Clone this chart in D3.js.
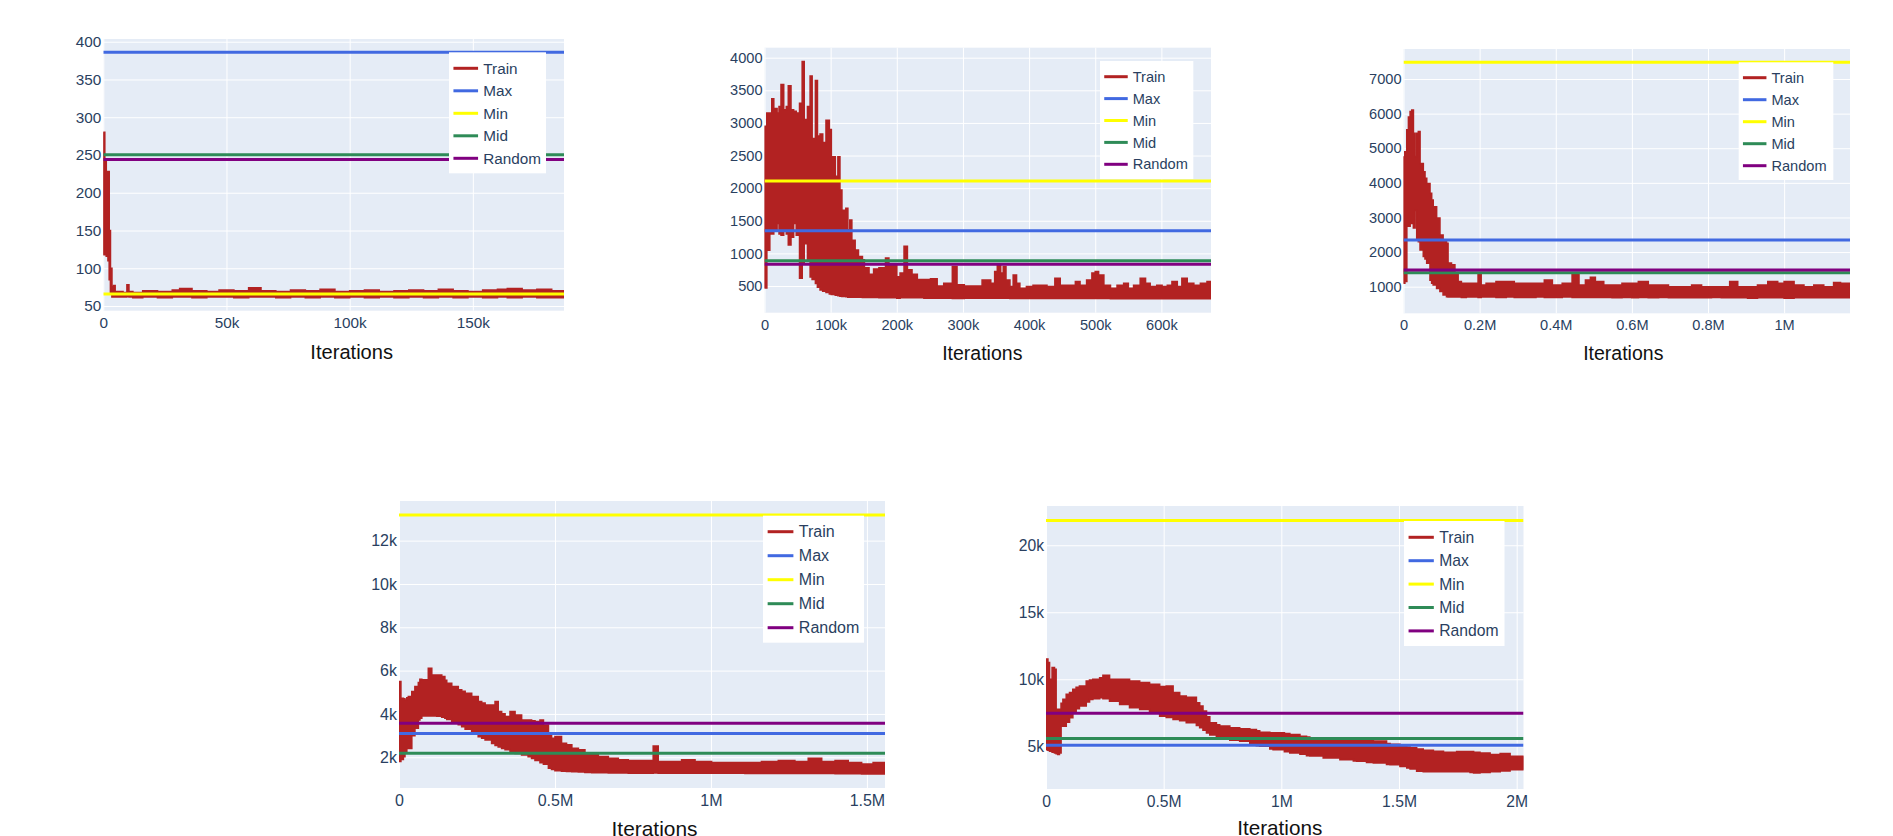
<!DOCTYPE html>
<html>
<head>
<meta charset="utf-8">
<script src="https://cdn.jsdelivr.net/npm/d3@7"></script>
<style>
    body { margin: 0; background: #fff; overflow: hidden; }
    svg { display: block; font-family: "Liberation Sans", Arial, sans-serif; }
</style>
</head>
<body>
<svg id="chart" width="1893" height="836"></svg>
<script>
// legend entries, same for every panel
const seriesNames = ['Train', 'Max', 'Min', 'Mid', 'Random'];
const seriesColors = ['#b22222', '#4169e1', '#ffff00', '#2e8b57', '#800080'];

// flat reference lines, one value per panel (panel 1..5)
const maxValues = [386, 1348, 2349, 3098, 5074];
const minValues = [65.8, 2110, 7482, 13180, 21840];
const midValues = [250.3, 888, 1405, 2180, 5570];
const randomValues = [244, 833, 1482, 3570, 7460];

// x axis end (iterations, thousands)
const xMaxValues = [187, 675, 1173, 1558, 2029];

// Train curves: [iteration (k), lower edge, upper edge]
const p1Train = [
    [0, 118, 280], [0.6, 118, 245], [1.2, 116, 228], [1.9, 110, 228], [2.4, 85, 150],
    [2.9, 66, 100], [3.5, 62, 75], [4.2, 63, 77], [4.8, 62, 69], [6, 62, 69],
    [8, 62, 68], [9.6, 63, 78], [10.4, 62, 69], [12, 61, 68], [16, 62, 70],
    [22, 61, 69], [28, 62, 71], [31, 62, 73], [36, 61, 70], [42, 62, 69],
    [47, 62, 71], [53, 61, 70], [59, 62, 74], [64, 62, 70], [70, 61, 69],
    [76, 62, 71], [82, 61, 70], [88, 62, 72], [94, 61, 69], [100, 62, 70],
    [106, 61, 71], [112, 62, 69], [118, 61, 70], [124, 62, 71], [130, 61, 70],
    [136, 62, 72], [142, 61, 70], [148, 62, 69], [154, 61, 71], [160, 62, 72],
    [164, 61, 73], [170, 62, 71], [176, 61, 72], [182, 61, 70], [187, 60, 71]
];

const p2Train = [
    [0, 470, 2950], [3.5, 1050, 3150], [8, 1300, 3150], [11, 1300, 3370], [14, 1350, 3220],
    [19, 1460, 3150], [22, 1300, 3250], [25, 1280, 3590], [29, 1350, 3200], [33, 1300, 3250],
    [36, 1130, 3570], [40, 1250, 3200], [44, 1460, 3180], [48, 1280, 3150], [53, 620, 3300],
    [57, 850, 3940], [60, 1150, 3050], [65, 900, 3250], [69, 640, 3720], [72, 600, 2760],
    [77, 540, 3650], [80, 480, 2800], [84, 440, 2830], [88, 420, 2700], [93, 400, 3040],
    [98, 380, 2900], [101, 370, 2480], [107, 360, 2180], [111, 350, 2480], [114, 345, 1970],
    [117, 340, 1660], [123, 335, 1690], [126, 330, 1360], [129, 330, 1510], [132, 330, 1200],
    [137, 330, 1050], [142, 330, 950], [148, 325, 900], [151, 325, 780], [158, 325, 680],
    [165, 325, 760], [173, 320, 780], [183, 320, 930], [188, 320, 840], [193, 320, 840],
    [200, 315, 640], [205, 320, 700], [211, 320, 1110], [216, 320, 750], [223, 320, 680],
    [231, 320, 600], [241, 315, 600], [251, 315, 610], [261, 315, 500], [271, 315, 540],
    [284, 310, 800], [291, 310, 520], [302, 315, 500], [317, 315, 500], [329, 315, 590],
    [342, 315, 540], [348, 315, 720], [352, 315, 810], [357, 315, 700], [361, 315, 800],
    [365, 315, 590], [371, 310, 490], [376, 310, 670], [381, 310, 540], [386, 310, 465],
    [396, 310, 490], [406, 310, 510], [417, 310, 510], [427, 310, 490], [439, 310, 620],
    [447, 310, 510], [457, 310, 510], [470, 310, 570], [477, 310, 510], [487, 310, 590],
    [495, 310, 700], [500, 310, 720], [505, 310, 670], [513, 310, 510], [523, 305, 465],
    [533, 305, 510], [543, 305, 540], [550, 305, 465], [558, 305, 510], [568, 305, 620],
    [576, 305, 540], [583, 305, 490], [593, 305, 510], [601, 305, 490], [609, 305, 510],
    [616, 305, 570], [624, 305, 490], [631, 305, 620], [639, 305, 540], [649, 305, 510],
    [659, 305, 540], [669, 305, 570], [675, 320, 490]
];

const p3Train = [
    [0, 1100, 4750], [3.5, 1150, 4900], [8.7, 2750, 5530], [13, 2750, 5900], [17.4, 2830, 6060],
    [21.7, 2830, 6100], [26, 2700, 5430], [30.4, 3200, 4760], [34.8, 2350, 5430], [39, 2300, 5480],
    [43.5, 2060, 4560], [52, 1870, 4320], [56.5, 1800, 4130], [61, 1680, 3980], [69.6, 1190, 3700],
    [74, 1100, 3500], [78, 1050, 3310], [87, 950, 2980], [95.7, 860, 2490], [104, 760, 2350],
    [113, 710, 2250], [117, 700, 1680], [126, 700, 1630], [135, 700, 1390], [143.5, 700, 1150],
    [152, 690, 1100], [165, 700, 1100], [178, 700, 1100], [196, 690, 1340], [204, 700, 1050],
    [217, 700, 1100], [243, 690, 1150], [270, 700, 1150], [291, 690, 1100], [322, 690, 1100],
    [348, 700, 1100], [370, 690, 1190], [391, 690, 1050], [417, 700, 1100], [443, 690, 1370],
    [461, 690, 1050], [478, 690, 1190], [491, 690, 1270], [504, 690, 1150], [526, 690, 1050],
    [548, 680, 1050], [574, 690, 1100], [600, 680, 1100], [617, 690, 1150], [643, 680, 1050],
    [670, 690, 1050], [696, 680, 1000], [730, 680, 1000], [757, 680, 1050], [783, 680, 1000],
    [809, 690, 1000], [835, 680, 1000], [857, 680, 1150], [878, 680, 1000], [904, 670, 1000],
    [930, 680, 1050], [957, 680, 1150], [983, 680, 1100], [1000, 670, 1150], [1026, 680, 1050],
    [1052, 680, 1000], [1078, 680, 1050], [1104, 680, 1000], [1130, 680, 1120], [1148, 680, 1100],
    [1173, 700, 900]
];

const p4Train = [
    [0, 1800, 5490], [6, 1900, 4720], [14, 2030, 4700], [19, 2200, 4640], [25, 2410, 4750],
    [30, 2410, 4800], [41, 3000, 5030], [51, 3340, 5260], [62, 3720, 5450], [67, 3800, 5600],
    [73, 3910, 5570], [83, 3910, 5570], [94, 3910, 6110], [105, 3910, 5800], [121, 3900, 5800],
    [137, 3850, 5720], [147, 3800, 5550], [153, 3750, 5410], [169, 3650, 5260], [190, 3500, 5110],
    [201, 3410, 5050], [212, 3300, 4950], [233, 3110, 4800], [254, 2950, 4570], [265, 2880, 4500],
    [276, 2800, 4410], [297, 2640, 4410], [308, 2550, 4570], [318, 2480, 4110], [329, 2410, 4000],
    [340, 2350, 3880], [356, 2260, 4110], [372, 2180, 3950], [393, 2110, 3720], [414, 2030, 3720],
    [425, 1950, 3680], [436, 1850, 3650], [452, 1750, 3720], [463, 1680, 3490], [479, 1490, 3110],
    [489, 1440, 2880], [500, 1380, 2950], [521, 1350, 2640], [537, 1340, 2570], [554, 1330, 2410],
    [575, 1320, 2340], [596, 1300, 2180], [618, 1290, 2110], [639, 1290, 2030], [671, 1280, 1950],
    [703, 1270, 1880], [735, 1260, 1850], [778, 1260, 1850], [815, 1270, 2520], [831, 1260, 1800],
    [874, 1260, 1800], [906, 1260, 1880], [949, 1260, 1800], [1002, 1260, 1750], [1056, 1260, 1750],
    [1109, 1250, 1750], [1162, 1250, 1800], [1216, 1250, 1850], [1269, 1250, 1800], [1312, 1250, 1950],
    [1355, 1250, 1800], [1398, 1240, 1850], [1440, 1240, 1750], [1483, 1230, 1690], [1520, 1230, 1750],
    [1558, 1300, 1650]
];

const p5Train = [
    [0, 4750, 11500], [8, 4700, 11250], [15, 4630, 10000], [26, 4550, 10870], [36, 4500, 10750],
    [43, 4450, 7750], [50, 4380, 7750], [57, 4500, 7750], [64, 6500, 8200], [72, 6500, 8500],
    [86, 6800, 8870], [100, 7130, 9000], [114, 7500, 9250], [128, 7800, 9400], [142, 8000, 9500],
    [171, 8300, 9870], [185, 8500, 9950], [199, 8550, 10000], [228, 8620, 10100], [242, 8550, 10300],
    [270, 8370, 10000], [313, 8120, 10000], [355, 7870, 9870], [398, 7750, 9750], [440, 7500, 9620],
    [483, 7250, 9450], [511, 7150, 9500], [540, 7000, 9000], [568, 6900, 8750], [596, 6750, 8650],
    [639, 6550, 8250], [653, 6380, 8000], [667, 6200, 7620], [682, 6000, 7200], [696, 5850, 6750],
    [724, 5700, 6600], [738, 5620, 6500], [781, 5450, 6380], [823, 5380, 6300], [866, 5200, 6250],
    [894, 5050, 6150], [908, 5000, 6050], [951, 4800, 6000], [965, 4750, 6000], [1013, 4600, 5950],
    [1036, 4500, 5880], [1079, 4400, 5750], [1107, 4300, 5680], [1121, 4280, 5630], [1178, 4130, 5500],
    [1249, 4000, 5500], [1306, 3900, 5520], [1320, 3880, 5500], [1362, 3800, 5500], [1391, 3750, 5380],
    [1447, 3650, 5200], [1462, 3630, 5150], [1504, 3500, 5000], [1533, 3380, 4950], [1547, 3300, 4880],
    [1575, 3130, 4800], [1603, 3100, 4700], [1646, 3100, 4630], [1689, 3100, 4550], [1745, 3100, 4600],
    [1802, 3050, 4600], [1817, 3000, 4550], [1844, 3050, 4500], [1887, 3100, 4380], [1930, 3150, 4450],
    [1972, 3250, 4250], [2029, 3200, 4100]
];

// tick values and labels
const p1XTicks = [0, 50, 100, 150];
const p1XLabels = ['0', '50k', '100k', '150k'];
const p1YTicks = [50, 100, 150, 200, 250, 300, 350, 400];
const p1YLabels = ['50', '100', '150', '200', '250', '300', '350', '400'];

const p2XTicks = [0, 100, 200, 300, 400, 500, 600];
const p2XLabels = ['0', '100k', '200k', '300k', '400k', '500k', '600k'];
const p2YTicks = [500, 1000, 1500, 2000, 2500, 3000, 3500, 4000];
const p2YLabels = ['500', '1000', '1500', '2000', '2500', '3000', '3500', '4000'];

const p3XTicks = [0, 200, 400, 600, 800, 1000];
const p3XLabels = ['0', '0.2M', '0.4M', '0.6M', '0.8M', '1M'];
const p3YTicks = [1000, 2000, 3000, 4000, 5000, 6000, 7000];
const p3YLabels = ['1000', '2000', '3000', '4000', '5000', '6000', '7000'];

const p4XTicks = [0, 500, 1000, 1500];
const p4XLabels = ['0', '0.5M', '1M', '1.5M'];
const p4YTicks = [2000, 4000, 6000, 8000, 10000, 12000];
const p4YLabels = ['2k', '4k', '6k', '8k', '10k', '12k'];

const p5XTicks = [0, 500, 1000, 1500, 2000];
const p5XLabels = ['0', '0.5M', '1M', '1.5M', '2M'];
const p5YTicks = [5000, 10000, 15000, 20000];
const p5YLabels = ['5k', '10k', '15k', '20k'];

const xTitle = 'Iterations';

// layout of each panel (pixel boxes measured on the page)
const panels = [
    { train: p1Train, xTicks: p1XTicks, xLabels: p1XLabels, yTicks: p1YTicks, yLabels: p1YLabels,
      yDomain: [43.8, 403.6], box: { left: 103.3, top: 39, right: 564, bottom: 310.7 },
      font: 15.3, titleFont: 20.1, titleX: 351.7, titleY: 351.7,
      legend: { x: 449, y: 52.3, w: 97, h: 121, first: 16, step: 22.5 } },
    { train: p2Train, xTicks: p2XTicks, xLabels: p2XLabels, yTicks: p2YTicks, yLabels: p2YLabels,
      yDomain: [91, 4153], box: { left: 764.5, top: 47.7, right: 1211, bottom: 312.7 },
      font: 14.6, titleFont: 19.5, titleX: 982.3, titleY: 353.3,
      legend: { x: 1100, y: 61, w: 93.3, h: 118, first: 15.7, step: 21.9 } },
    { train: p3Train, xTicks: p3XTicks, xLabels: p3XLabels, yTicks: p3YTicks, yLabels: p3YLabels,
      yDomain: [231, 7867], box: { left: 1403.5, top: 49, right: 1850, bottom: 313.3 },
      font: 14.6, titleFont: 19.5, titleX: 1623.3, titleY: 352.7,
      legend: { x: 1738.7, y: 62.3, w: 94.6, h: 117.7, first: 15.4, step: 22 } },
    { train: p4Train, xTicks: p4XTicks, xLabels: p4XLabels, yTicks: p4YTicks, yLabels: p4YLabels,
      yDomain: [580, 13830], box: { left: 399, top: 501, right: 885, bottom: 788 },
      font: 16, titleFont: 20.9, titleX: 654.5, titleY: 829,
      legend: { x: 763, y: 515.7, w: 101, h: 127, first: 16, step: 24 } },
    { train: p5Train, xTicks: p5XTicks, xLabels: p5XLabels, yTicks: p5YTicks, yLabels: p5YLabels,
      yDomain: [1810, 22930], box: { left: 1046, top: 506, right: 1523.5, bottom: 789 },
      font: 15.7, titleFont: 20.7, titleX: 1279.7, titleY: 827.5,
      legend: { x: 1404, y: 521, w: 100.5, h: 125, first: 16.3, step: 23.4 } }
];

const svg = d3.select('#chart');
const defs = svg.append('defs');

panels.forEach((p, i) => drawPanel(p, i));

function drawPanel(p, i) {
    const width = p.box.right - p.box.left;
    const height = p.box.bottom - p.box.top;

    const g = svg.append('g')
        .attr('transform', `translate(${p.box.left}, ${p.box.top})`);

    const xScale = d3.scaleLinear().domain([0, xMaxValues[i]]).range([0, width]);
    const yScale = d3.scaleLinear().domain(p.yDomain).range([height, 0]);

    // plot background
    g.append('rect')
        .attr('width', width)
        .attr('height', height)
        .attr('fill', '#e5ecf6');

    // axes double as white grid lines
    const xAxis = d3.axisBottom(xScale)
        .tickValues(p.xTicks)
        .tickFormat((d, j) => p.xLabels[j])
        .tickSizeInner(-height)
        .tickSizeOuter(0)
        .tickPadding(6.5);

    const yAxis = d3.axisLeft(yScale)
        .tickValues(p.yTicks)
        .tickFormat((d, j) => p.yLabels[j])
        .tickSizeInner(-width)
        .tickSizeOuter(0)
        .tickPadding(2);

    [g.append('g').attr('transform', `translate(0, ${height})`).call(xAxis),
     g.append('g').call(yAxis)].forEach(ax => {
        ax.attr('font-family', null).attr('font-size', null);
        ax.select('.domain').remove();
        ax.selectAll('line').attr('stroke', '#ffffff').attr('stroke-width', 1);
        ax.selectAll('text')
            .attr('fill', '#2a3f5f')
            .style('font-size', p.font + 'px');
    });

    defs.append('clipPath')
        .attr('id', 'clip' + i)
        .append('rect')
        .attr('width', width)
        .attr('height', height);

    const plot = g.append('g').attr('clip-path', `url(#clip${i})`);

    // Train band
    const area = d3.area()
        .x(d => xScale(d[0]))
        .y0(d => yScale(d[1]))
        .y1(d => yScale(d[2]))
        .curve(d3.curveStepAfter);

    plot.append('path')
        .datum(p.train)
        .attr('d', area)
        .attr('fill', seriesColors[0])
        .attr('stroke', seriesColors[0])
        .attr('stroke-width', 1.6)
        .attr('stroke-linejoin', 'miter');

    // flat reference lines
    const flat = [maxValues[i], minValues[i], midValues[i], randomValues[i]];
    flat.forEach((v, k) => {
        plot.append('line')
            .attr('x1', 0)
            .attr('x2', width)
            .attr('y1', yScale(v))
            .attr('y2', yScale(v))
            .attr('stroke', seriesColors[k + 1])
            .attr('stroke-width', 3);
    });

    // legend
    const lg = svg.append('g')
        .attr('transform', `translate(${p.legend.x}, ${p.legend.y})`);

    lg.append('rect')
        .attr('width', p.legend.w)
        .attr('height', p.legend.h)
        .attr('fill', '#ffffff');

    seriesNames.forEach((name, k) => {
        const yy = p.legend.first + k * p.legend.step;
        lg.append('line')
            .attr('x1', p.font * 0.29)
            .attr('x2', p.font * 1.9)
            .attr('y1', yy)
            .attr('y2', yy)
            .attr('stroke', seriesColors[k])
            .attr('stroke-width', 3);
        lg.append('text')
            .attr('x', p.font * 2.24)
            .attr('y', yy)
            .attr('dy', '0.35em')
            .attr('fill', '#2a3f5f')
            .style('font-size', p.font + 'px')
            .text(name);
    });

    // axis title
    svg.append('text')
        .attr('x', p.titleX)
        .attr('y', p.titleY)
        .attr('dy', '0.35em')
        .attr('text-anchor', 'middle')
        .attr('fill', '#111111')
        .style('font-size', p.titleFont + 'px')
        .text(xTitle);
}
</script>
</body>
</html>
